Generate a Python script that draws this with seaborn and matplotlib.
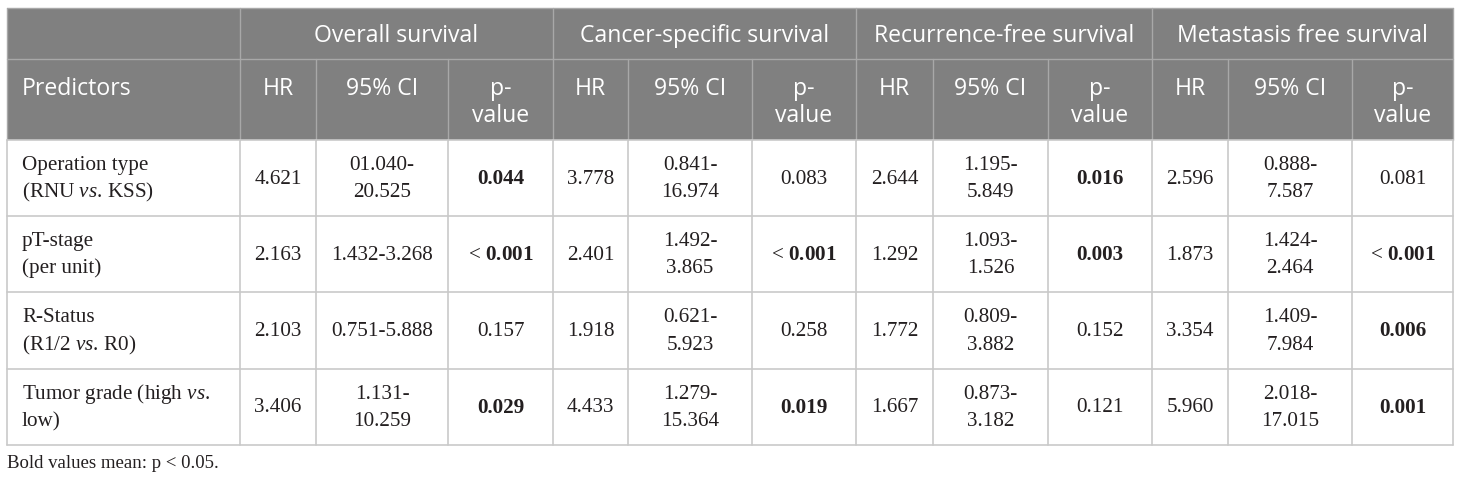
import matplotlib
matplotlib.use("Agg")
import matplotlib.pyplot as plt
from matplotlib.patches import Rectangle
import seaborn as sns

# ---------------- data ----------------
outcomes = ["Overall survival", "Cancer-specific survival",
            "Recurrence-free survival", "Metastasis free survival"]
sub_headers = ["HR", "95% CI", "p-\nvalue"]
predictors = [
    ["Operation type", r"(RNU $\it{vs}$. KSS)"],
    ["pT-stage", "(per unit)"],
    ["R-Status", r"(R1/2 $\it{vs}$. R0)"],
    [r"Tumor grade (high $\it{vs}$.", "low)"],
]
hr = [
    ["4.621", "3.778", "2.644", "2.596"],
    ["2.163", "2.401", "1.292", "1.873"],
    ["2.103", "1.918", "1.772", "3.354"],
    ["3.406", "4.433", "1.667", "5.960"],
]
ci = [
    ["01.040-\n20.525", "0.841-\n16.974", "1.195-\n5.849", "0.888-\n7.587"],
    ["1.432-3.268", "1.492-\n3.865", "1.093-\n1.526", "1.424-\n2.464"],
    ["0.751-5.888", "0.621-\n5.923", "0.809-\n3.882", "1.409-\n7.984"],
    ["1.131-\n10.259", "1.279-\n15.364", "0.873-\n3.182", "2.018-\n17.015"],
]
pvals = [
    ["0.044", "0.083", "0.016", "0.081"],
    ["< 0.001", "< 0.001", "0.003", "< 0.001"],
    ["0.157", "0.258", "0.152", "0.006"],
    ["0.029", "0.019", "0.121", "0.001"],
]
bold = [
    [True, False, True, False],
    [True, True, True, True],
    [False, False, False, True],
    [True, True, False, True],
]
caption = "Bold values mean: p < 0.05."

# ---------------- style ----------------
sns.set_theme(style="white")
plt.rcParams["font.family"] = ["DejaVu Sans"]
plt.rcParams["mathtext.fontset"] = "custom"
plt.rcParams["mathtext.rm"] = "Liberation Serif"
plt.rcParams["mathtext.it"] = "Liberation Serif:italic"
plt.rcParams["mathtext.bf"] = "Liberation Serif:bold"

HEAD_BG = "#808080"
HEAD_LINE = "#a8a8a8"
BODY_LINE = "#c9c9c9"
TXT = "#231f20"
HEAD_FONT = "Open Sans"
BODY_FONT = "Liberation Serif"
HS = 16.6
BS = 15.2

col_edges = [7, 240, 316, 448, 553, 628, 752, 856, 933, 1048, 1152, 1228, 1352, 1453]
row_edges = [8, 59, 140, 216, 292, 369, 445]
LS = 27  # line spacing px

fig = plt.figure(figsize=(14.6, 4.82), dpi=100)
ax = fig.add_axes([0, 0, 1, 1])
ax.set_xlim(0, 1460)
ax.set_ylim(482, 0)
ax.axis("off")

L, R = col_edges[0], col_edges[-1]
# header background
ax.add_patch(Rectangle((L, row_edges[0]), R - L, row_edges[2] - row_edges[0],
                       facecolor=HEAD_BG, edgecolor="none", zorder=1))
# header lines
ax.plot([L, R], [row_edges[0], row_edges[0]], color=HEAD_LINE, lw=1, zorder=2)
ax.plot([L, R], [row_edges[1], row_edges[1]], color=HEAD_LINE, lw=1, zorder=2)
for i, x in enumerate(col_edges):
    if i == 0 or (i - 1) % 3 == 0 or i == len(col_edges) - 1:
        ax.plot([x, x], [row_edges[0], row_edges[2]], color=HEAD_LINE, lw=1, zorder=2)
    else:
        ax.plot([x, x], [row_edges[1], row_edges[2]], color=HEAD_LINE, lw=1, zorder=2)
# body lines
for y in row_edges[2:]:
    ax.plot([L, R], [y, y], color=BODY_LINE, lw=1.2, zorder=2)
for x in col_edges:
    ax.plot([x, x], [row_edges[2], row_edges[-1]], color=BODY_LINE, lw=1.2, zorder=2)

# header text
hc1 = 36
hc2_first = 89
for g, name in enumerate(outcomes):
    x0 = col_edges[1 + 3 * g]
    x1 = col_edges[4 + 3 * g]
    ax.text((x0 + x1) / 2, hc1, name, ha="center", va="center", color="white",
            fontsize=HS, family=HEAD_FONT, zorder=3)
    for k, sh in enumerate(sub_headers):
        xa = col_edges[1 + 3 * g + k]
        xb = col_edges[2 + 3 * g + k]
        for j, ln in enumerate(sh.split("\n")):
            ax.text((xa + xb) / 2, hc2_first + j * LS, ln, ha="center", va="center",
                    color="white", fontsize=HS, family=HEAD_FONT, zorder=3)
ax.text(22, hc2_first, "Predictors", ha="left", va="center", color="white",
        fontsize=HS, family=HEAD_FONT, zorder=3)


def cell_text(xc, yc, s, ha="center", is_bold=False):
    lines = s.split("\n")
    n = len(lines)
    for j, ln in enumerate(lines):
        y = yc - (n - 1) * LS / 2 + j * LS
        ax.text(xc, y, ln, ha=ha, va="center", color=TXT, fontsize=BS,
                family=BODY_FONT, fontweight="bold" if is_bold else "normal",
                zorder=3)


for r in range(len(predictors)):
    yc = (row_edges[2 + r] + row_edges[3 + r]) / 2 + 1
    cell_text(22, yc, "\n".join(predictors[r]), ha="left")
    for g in range(4):
        base = 1 + 3 * g
        cx = [(col_edges[base + k] + col_edges[base + k + 1]) / 2 for k in range(3)]
        cell_text(cx[0], yc, hr[r][g])
        cell_text(cx[1], yc, ci[r][g])
        pv = pvals[r][g]
        if bold[r][g]:
            if pv.startswith("<"):
                cell_text(cx[2], yc, r"< $\mathbf{" + pv[2:] + "}$")
            else:
                cell_text(cx[2], yc, pv, is_bold=True)
        else:
            cell_text(cx[2], yc, pv)

ax.text(L, 463, caption, ha="left", va="center", color=TXT, fontsize=13.5,
        family=BODY_FONT)

fig.savefig("out.png", dpi=100, facecolor="white")
